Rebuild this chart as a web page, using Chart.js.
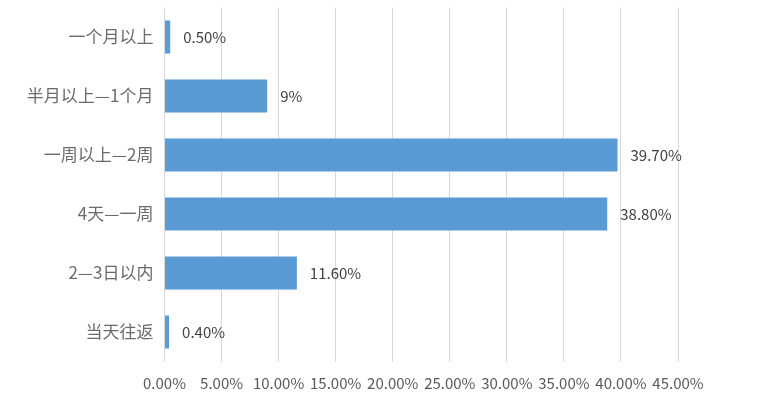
<!DOCTYPE html>
<html>
<head>
<meta charset="utf-8">
<script src="https://cdn.jsdelivr.net/npm/chart.js@4/dist/chart.umd.min.js"></script>
<style>
html,body{margin:0;padding:0;background:#fff;}
#wrap{width:758px;height:398px;position:relative;}
</style>
</head>
<body>
<div id="wrap"><canvas id="c" width="758" height="398"></canvas></div>
<script>
const categories = ["一个月以上", "半月以上—1个月", "一周以上—2周", "4天—一周", "2—3日以内", "当天往返"];
const values = [0.5, 9, 39.7, 38.8, 11.6, 0.4];
const valueLabels = ["0.50%", "9%", "39.70%", "38.80%", "11.60%", "0.40%"];
const tickValues = [0, 5, 10, 15, 20, 25, 30, 35, 40, 45];

const FONT = "'Noto Sans CJK SC', 'Open Sans', sans-serif";

const labelPlugin = {
  id: 'barLabels',
  afterDatasetsDraw(chart) {
    const ctx = chart.ctx;
    const meta = chart.getDatasetMeta(0);
    ctx.save();
    ctx.font = "15px " + FONT;
    ctx.fillStyle = "#404040";
    ctx.textAlign = "left";
    ctx.textBaseline = "middle";
    meta.data.forEach((bar, i) => {
      ctx.fillText(valueLabels[i], bar.x + 13, bar.y);
    });
    ctx.restore();
  }
};

new Chart(document.getElementById('c'), {
  type: 'bar',
  data: {
    labels: categories,
    datasets: [{
      data: values,
      backgroundColor: '#5B9BD5',
      borderWidth: 0,
      categoryPercentage: 1,
      barPercentage: 0.56
    }]
  },
  options: {
    indexAxis: 'y',
    responsive: false,
    animation: false,
    devicePixelRatio: 1,
    layout: { padding: { top: 7.5, right: 80, left: 0, bottom: 0 } },
    plugins: { legend: { display: false }, tooltip: { enabled: false } },
    scales: {
      x: {
        min: 0, max: 45,
        afterBuildTicks(scale) { scale.ticks = tickValues.map(v => ({ value: v })); },
        afterFit(scale) { scale.height = 36.5; scale.paddingLeft = 0; scale.paddingRight = 0; },
        ticks: {
          padding: 13,
          maxRotation: 0,
          minRotation: 0,
          autoSkip: false,
          color: '#595959',
          font: { family: FONT, size: 15 },
          callback: (v) => Number(v).toFixed(2) + '%'
        },
        grid: { color: '#d9d9d9', drawTicks: false, lineWidth: 1 },
        border: { display: false }
      },
      y: {
        afterFit(scale) { scale.width = 164.5; scale.paddingTop = 0; scale.paddingBottom = 0; },
        ticks: {
          padding: 11,
          color: '#6b6b6b',
          font: { family: FONT, size: 17 }
        },
        grid: { display: false, drawTicks: false },
        border: { display: false }
      }
    }
  },
  plugins: [labelPlugin]
});
</script>
</body>
</html>
